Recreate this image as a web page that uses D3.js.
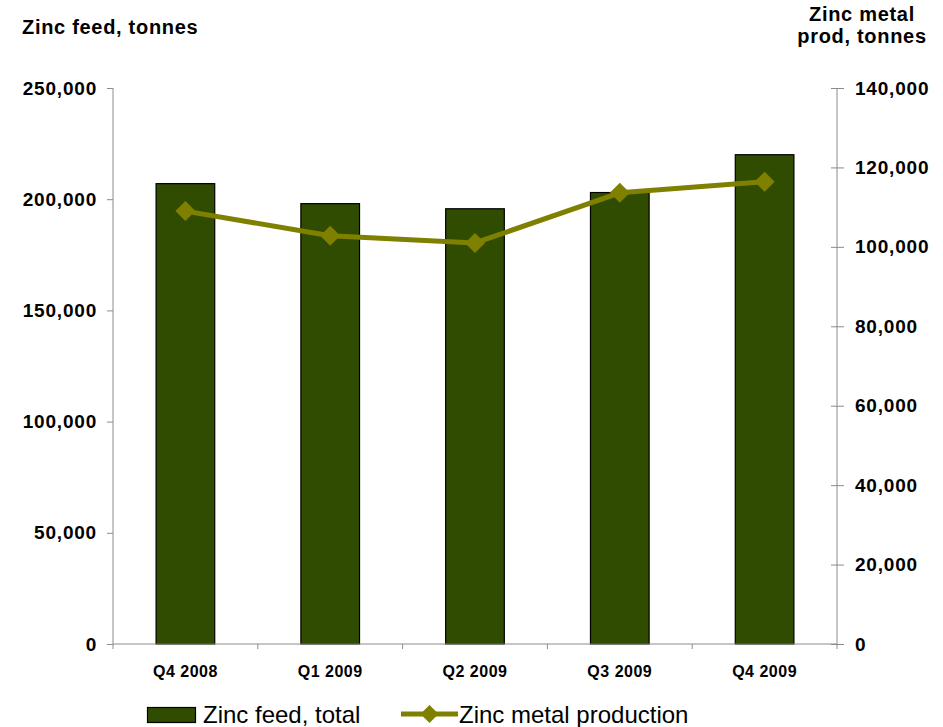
<!DOCTYPE html>
<html>
<head>
<meta charset="utf-8">
<script src="https://cdn.jsdelivr.net/npm/d3@7"></script>
<style>
  html, body { margin: 0; padding: 0; background: #fff; }
  svg { display: block; font-family: "Liberation Sans", Arial, sans-serif; }
</style>
</head>
<body>
<svg id="chart" width="943" height="727"></svg>
<script>
// Quarterly zinc data
const quarters = ["Q4 2008", "Q1 2009", "Q2 2009", "Q3 2009", "Q4 2009"];
const zincFeed = [207000, 198000, 195700, 203000, 220000];      // tonnes, left axis
const zincMetal = [109000, 102800, 101000, 113600, 116400];     // tonnes, right axis
const leftTicks = [0, 50000, 100000, 150000, 200000, 250000];
const rightTicks = [0, 20000, 40000, 60000, 80000, 100000, 120000, 140000];

const svg = d3.select("#chart");
const plot = { left: 113, right: 837, top: 88, bottom: 644 };
const barColor = "#2f4c00";
const lineColor = "#808000";
const axisColor = "#8c8c8c";
const fmt = d3.format(",");

const x = d3.scaleBand().domain(quarters).range([plot.left, plot.right]).padding(0);
const yL = d3.scaleLinear().domain([0, 250000]).range([plot.bottom, plot.top]);
const yR = d3.scaleLinear().domain([0, 140000]).range([plot.bottom, plot.top]);
const barW = x.bandwidth() * 0.405;

// Bars
svg.append("g").selectAll("rect").data(quarters).join("rect")
  .attr("x", (d) => x(d) + (x.bandwidth() - barW) / 2)
  .attr("y", (d, i) => yL(zincFeed[i]))
  .attr("width", barW)
  .attr("height", (d, i) => yL(0) - yL(zincFeed[i]))
  .attr("fill", barColor)
  .attr("stroke", "#000")
  .attr("stroke-width", 1.2);

// Left axis
const gL = svg.append("g").attr("transform", `translate(${plot.left},0)`)
  .call(d3.axisLeft(yL).tickValues(leftTicks).tickFormat(fmt).tickSize(6).tickPadding(10));
gL.selectAll("path, line").attr("stroke", axisColor);
gL.selectAll("text").attr("font-size", 19).attr("font-weight", "bold")
  .attr("letter-spacing", 0.8).attr("fill", "#000")
  .attr("font-family", "Liberation Sans, Arial, sans-serif");
gL.select(".domain").attr("d", `M0,${plot.bottom}V${plot.top}`);

// Right axis (ticks cross the axis line)
const gR = svg.append("g").attr("transform", `translate(${plot.right},0)`)
  .call(d3.axisRight(yR).tickValues(rightTicks).tickFormat(fmt).tickSize(7).tickPadding(11));
gR.selectAll(".tick line").attr("x1", -6);
gR.selectAll("path, line").attr("stroke", axisColor);
gR.selectAll("text").attr("font-size", 19).attr("font-weight", "bold")
  .attr("letter-spacing", 0.8).attr("fill", "#000")
  .attr("font-family", "Liberation Sans, Arial, sans-serif");
gR.select(".domain").attr("d", `M0,${plot.bottom}V${plot.top}`);

// Bottom axis: ticks at category boundaries
const gB = svg.append("g").attr("transform", `translate(0,${plot.bottom})`);
gB.append("line").attr("x1", plot.left).attr("x2", plot.right)
  .attr("stroke", axisColor);
const bounds = quarters.map((q) => x(q)).concat([plot.right]);
gB.selectAll("line.tk").data(bounds).join("line").attr("class", "tk")
  .attr("x1", (d) => d).attr("x2", (d) => d).attr("y1", 0).attr("y2", 5)
  .attr("stroke", axisColor);
gB.selectAll("text").data(quarters).join("text")
  .attr("x", (d) => x(d) + x.bandwidth() / 2)
  .attr("y", 33)
  .attr("text-anchor", "middle")
  .attr("font-size", 16).attr("font-weight", "bold").attr("letter-spacing", 0.5)
  .text((d) => d);

// Line series on the right axis
const cx = (i) => x(quarters[i]) + x.bandwidth() / 2;
const line = d3.line().x((d, i) => cx(i)).y((d) => yR(d));
svg.append("path").datum(zincMetal)
  .attr("d", line).attr("fill", "none")
  .attr("stroke", lineColor).attr("stroke-width", 5).attr("stroke-linejoin", "round");
const diamond = (cxp, cyp, r) => `M${cxp},${cyp - r}L${cxp + r},${cyp}L${cxp},${cyp + r}L${cxp - r},${cyp}Z`;
svg.append("g").selectAll("path").data(zincMetal).join("path")
  .attr("d", (d, i) => diamond(cx(i), yR(d), 10))
  .attr("fill", lineColor);

// Axis titles
svg.append("text").attr("x", 22).attr("y", 34)
  .attr("font-size", 20).attr("font-weight", "bold").attr("letter-spacing", 0.7)
  .text("Zinc feed, tonnes");
const rt = svg.append("text").attr("text-anchor", "middle")
  .attr("font-size", 20).attr("font-weight", "bold").attr("letter-spacing", 0.7);
rt.append("tspan").attr("x", 862).attr("y", 21).text("Zinc metal");
rt.append("tspan").attr("x", 862).attr("y", 43).text("prod, tonnes");

// Legend
const lg = svg.append("g");
lg.append("rect").attr("x", 147.5).attr("y", 707.5).attr("width", 48).attr("height", 15)
  .attr("fill", barColor).attr("stroke", "#000").attr("stroke-width", 1.2);
lg.append("text").attr("x", 203).attr("y", 723).attr("font-size", 24).text("Zinc feed, total");
lg.append("line").attr("x1", 401).attr("x2", 458).attr("y1", 714).attr("y2", 714)
  .attr("stroke", lineColor).attr("stroke-width", 5);
lg.append("path").attr("d", diamond(429.5, 714, 9)).attr("fill", lineColor);
lg.append("text").attr("x", 459).attr("y", 723).attr("font-size", 24).text("Zinc metal production");
</script>
</body>
</html>
